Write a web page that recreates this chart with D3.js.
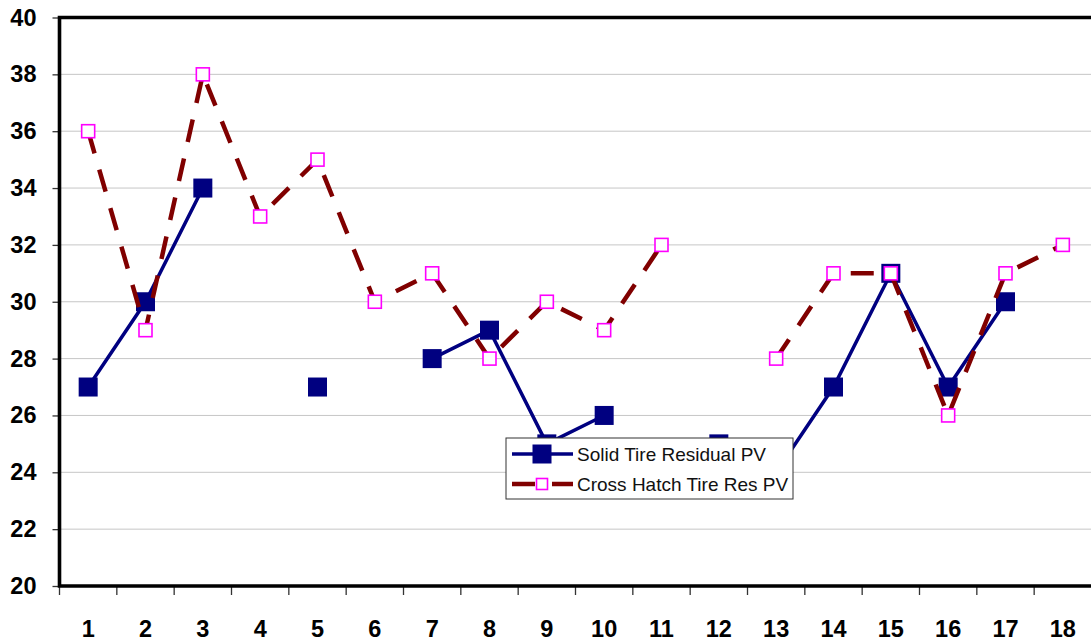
<!DOCTYPE html>
<html>
<head>
<meta charset="utf-8">
<script src="https://cdn.jsdelivr.net/npm/d3@7"></script>
<style>
  html, body { margin: 0; padding: 0; background: #fff; }
  svg { display: block; font-family: "Liberation Sans", Arial, sans-serif; }
</style>
</head>
<body>
<svg id="chart" width="1091" height="642"></svg>
<script>
// Test positions 1..18
const positions = d3.range(1, 19);
// Residual PV per position (null = not measured)
const solidTire = [27, 30, 34, null, 27, null, 28, 29, 25, 26, null, 25, 24, 27, 31, 27, 30, null];
const crossHatchTire = [36, 29, 38, 33, 35, 30, 31, 28, 30, 29, 32, null, 28, 31, 31, 26, 31, 32];
const yTicks = [20, 22, 24, 26, 28, 30, 32, 34, 36, 38, 40];
const seriesNames = ["Solid Tire Residual PV", "Cross Hatch Tire Res PV"];

const svg = d3.select("#chart");
const plot = { left: 59.5, right: 1091.5, top: 17.5, bottom: 586 };

const x = d3.scaleBand().domain(positions).range([plot.left, plot.right]).padding(0);
const y = d3.scaleLinear().domain([20, 40]).range([plot.bottom, plot.top]);
const cx = d => x(d) + x.bandwidth() / 2;

// horizontal gridlines
svg.append("g").selectAll("line")
  .data(yTicks.filter(t => t > 20 && t < 40))
  .join("line")
  .attr("x1", plot.left).attr("x2", plot.right)
  .attr("y1", d => y(d)).attr("y2", d => y(d))
  .attr("stroke", "#c6c6c6").attr("stroke-width", 1);

// series lines and markers
const solidPts = positions.map((p, i) => ({ p, v: solidTire[i] }));
const crossPts = positions.map((p, i) => ({ p, v: crossHatchTire[i] }));
const line = d3.line().defined(d => d.v != null).x(d => cx(d.p)).y(d => y(d.v));

svg.append("path").datum(solidPts)
  .attr("d", line).attr("fill", "none")
  .attr("stroke", "#000080").attr("stroke-width", 3.5);
svg.append("g").selectAll("rect")
  .data(solidPts.filter(d => d.v != null))
  .join("rect")
  .attr("x", d => cx(d.p) - 9.5).attr("y", d => y(d.v) - 9.5)
  .attr("width", 19).attr("height", 19)
  .attr("fill", "#000080");

svg.append("path").datum(crossPts)
  .attr("d", line).attr("fill", "none")
  .attr("stroke", "#800000").attr("stroke-width", 4.5)
  .attr("stroke-dasharray", "23,17");
svg.append("g").selectAll("rect")
  .data(crossPts.filter(d => d.v != null))
  .join("rect")
  .attr("x", d => cx(d.p) - 6.5).attr("y", d => y(d.v) - 6.5)
  .attr("width", 13).attr("height", 13)
  .attr("fill", "#fff").attr("stroke", "#ff00ff").attr("stroke-width", 1.6);

// axes
const yAxis = svg.append("g")
  .attr("transform", `translate(${plot.left},0)`)
  .call(d3.axisLeft(y).tickValues(yTicks).tickSize(7).tickPadding(16));
yAxis.select(".domain").remove();
yAxis.selectAll("line").attr("stroke", "#333").attr("stroke-width", 1.3);
yAxis.selectAll("text")
  .attr("fill", "#000").style("font-size", "23.5px").style("font-weight", "bold");

const xAxis = svg.append("g")
  .attr("transform", `translate(0,${plot.bottom})`)
  .call(d3.axisBottom(x).tickSize(0).tickPadding(34));
xAxis.select(".domain").remove();
xAxis.selectAll("text")
  .attr("fill", "#000").style("font-size", "23.5px").style("font-weight", "bold");

// category boundary ticks
svg.append("g").selectAll("line")
  .data(positions)
  .join("line")
  .attr("x1", d => x(d)).attr("x2", d => x(d))
  .attr("y1", plot.bottom).attr("y2", plot.bottom + 9)
  .attr("stroke", "#333").attr("stroke-width", 1.3);

// plot frame (top, left, bottom)
svg.append("path")
  .attr("d", `M${plot.right},${plot.top}H${plot.left}V${plot.bottom}H${plot.right}`)
  .attr("fill", "none").attr("stroke", "#000").attr("stroke-width", 3.6);

// legend
const lg = svg.append("g").attr("transform", "translate(506,438)");
lg.append("rect").attr("width", 287).attr("height", 61)
  .attr("fill", "#fff").attr("stroke", "#333").attr("stroke-width", 1);

const row1 = lg.append("g").attr("transform", "translate(0,16)");
row1.append("line").attr("x1", 6).attr("x2", 67).attr("y1", 0).attr("y2", 0)
  .attr("stroke", "#000080").attr("stroke-width", 3.5);
row1.append("rect").attr("x", 36 - 9.5).attr("y", -9.5).attr("width", 19).attr("height", 19)
  .attr("fill", "#000080");
row1.append("text").attr("x", 71).attr("y", 7).text(seriesNames[0])
  .attr("fill", "#111").style("font-size", "19px");

const row2 = lg.append("g").attr("transform", "translate(0,46)");
row2.append("line").attr("x1", 6).attr("x2", 67).attr("y1", 0).attr("y2", 0)
  .attr("stroke", "#800000").attr("stroke-width", 4.5).attr("stroke-dasharray", "23,17");
row2.append("rect").attr("x", 36 - 5.5).attr("y", -5.5).attr("width", 11).attr("height", 11)
  .attr("fill", "#fff").attr("stroke", "#ff00ff").attr("stroke-width", 1.6);
row2.append("text").attr("x", 71).attr("y", 7).text(seriesNames[1])
  .attr("fill", "#111").style("font-size", "19px");
</script>
</body>
</html>
